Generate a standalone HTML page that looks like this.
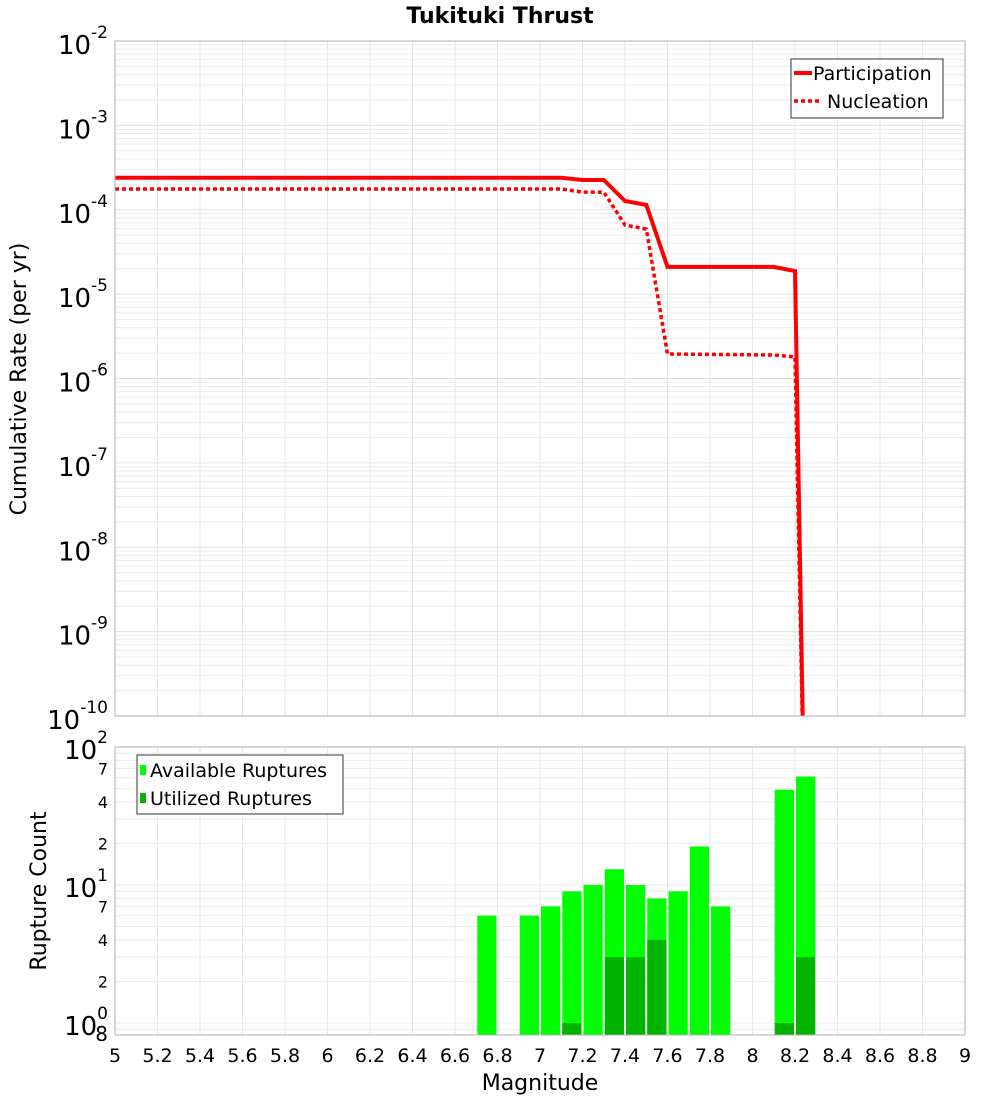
<!DOCTYPE html>
<html><head><meta charset="utf-8"><style>
body{margin:0;background:#fff;}
svg{display:block;font-family:"DejaVu Sans","Liberation Sans",sans-serif;}
</style></head><body>
<svg id="chart" width="1000" height="1100" xmlns="http://www.w3.org/2000/svg">
<text x="500" y="23" text-anchor="middle" font-size="22" font-weight="bold">Tukituki Thrust</text>
<g id="topPlot"></g><g id="botPlot"></g>
<text transform="translate(26,379) rotate(-90)" text-anchor="middle" font-size="22">Cumulative Rate (per yr)</text>
<text transform="translate(46,891) rotate(-90)" text-anchor="middle" font-size="22">Rupture Count</text>
<text x="540" y="1090" text-anchor="middle" font-size="22">Magnitude</text>
</svg>
<script>
const partMags=[5,7.1,7.2,7.3,7.4,7.5,7.6,8.1,8.2,8.25];
const partRates=[2.4e-4,2.4e-4,2.25e-4,2.25e-4,1.27e-4,1.14e-4,2.1e-5,2.1e-5,1.88e-5,1e-12];
const nuclMags=[5,7.1,7.2,7.3,7.4,7.5,7.6,8.1,8.2,8.25];
const nuclRates=[1.76e-4,1.76e-4,1.62e-4,1.62e-4,6.6e-5,5.9e-5,1.95e-6,1.9e-6,1.8e-6,1e-12];
const barMags=[6.75,6.95,7.05,7.15,7.25,7.35,7.45,7.55,7.65,7.75,7.85,8.15,8.25];
const availCounts=[6,6,7,9,10,13,10,8,9,19,7,49,61];
const usedMags=[7.15,7.35,7.45,7.55,8.15,8.25];
const usedCounts=[1,3,3,4,1,3];
const xTicks=[5,5.2,5.4,5.6,5.8,6,6.2,6.4,6.6,6.8,7,7.2,7.4,7.6,7.8,8,8.2,8.4,8.6,8.8,9];
const topDecades=[-10,-9,-8,-7,-6,-5,-4,-3,-2];
const botMinorLabels=[2,4,7];

const NS='http://www.w3.org/2000/svg';
const L=115,R=965,T1=41,B1=716,T2=747,B2=1035;
const x=m=>L+(m-5)/4*(R-L);
const yTop=v=>T1+(-2-Math.log10(v))*(B1-T1)/8;
const yBot=v=>1023-Math.log10(v)*138;
function mk(tag,attrs,parent,txt){const e=document.createElementNS(NS,tag);for(const k in attrs)e.setAttribute(k,attrs[k]);if(txt!==undefined)e.textContent=txt;parent.appendChild(e);return e;}
const svg=document.getElementById('chart');
const topG=document.getElementById('topPlot'),botG=document.getElementById('botPlot');

for(let d=-10;d<-2;d++)for(let k=1;k<10;k++){const yy=yTop(k*Math.pow(10,d));mk('line',{x1:L,x2:R,y1:yy,y2:yy,stroke:k==1?'#e0e0e0':'#ececec','stroke-width':1},topG);}
for(const t of xTicks){mk('line',{x1:x(t),x2:x(t),y1:T1,y2:B1,stroke:'#e6e6e6'},topG);mk('line',{x1:x(t),x2:x(t),y1:T2,y2:B2,stroke:'#e6e6e6'},botG);}
for(let d=-1;d<2;d++)for(let k=1;k<10;k++){const yy=yBot(k*Math.pow(10,d));if(yy<T2||yy>B2)continue;mk('line',{x1:L,x2:R,y1:yy,y2:yy,stroke:'#ececec'},botG);}

for(const d of topDecades){const yy=yTop(Math.pow(10,d));
 const t=mk('text',{x:108,y:yy+13,'text-anchor':'end','font-size':26},topG);
 
 
 mk('tspan',{},t,'10');mk('tspan',{dy:-16,'font-size':17},t,String(d));}

function path(ms,vs){return ms.map((m,i)=>(i?'L':'M')+x(m).toFixed(1)+','+yTop(vs[i]).toFixed(1)).join(' ');}
const cp=mk('clipPath',{id:'c1'},svg);mk('rect',{x:L,y:T1,width:R-L,height:B1-T1},cp);
const p1=mk('path',{d:path(partMags,partRates),fill:'none',stroke:'#ff0000','stroke-width':4,'clip-path':'url(#c1)'},topG);


const p2=mk('path',{d:path(nuclMags,nuclRates),fill:'none',stroke:'#ff0000','stroke-width':3.5,'stroke-dasharray':'4 3','clip-path':'url(#c1)'},topG);


mk('rect',{x:L,y:T1,width:R-L,height:B1-T1,fill:'none',stroke:'#b0b0b0'},topG);

const lg=mk('g',{},topG);


mk('rect',{x:791,y:59,width:152,height:59,fill:'#fff',stroke:'#333'},lg);
mk('line',{x1:794,x2:812,y1:73,y2:73,stroke:'#f00','stroke-width':4},lg);
mk('text',{x:813,y:80,'font-size':19},lg,'Participation');
mk('line',{x1:794,x2:822,y1:101,y2:101,stroke:'#f00','stroke-width':3.5,'stroke-dasharray':'4 3'},lg);
mk('text',{x:827,y:108,'font-size':19},lg,'Nucleation');

const bw=(R-L)/40;
barMags.forEach((m,i)=>{const yy=yBot(availCounts[i]);const r=mk('rect',{x:x(m)-bw/2+1,y:yy,width:bw-2,height:B2-yy,fill:'#00ff00'},botG);
 
 });
usedMags.forEach((m,i)=>{const yy=yBot(usedCounts[i]);const r=mk('rect',{x:x(m)-bw/2+1,y:yy,width:bw-2,height:B2-yy,fill:'#00b400'},botG);
 
 });
mk('rect',{x:L,y:T2,width:R-L,height:B2-T2,fill:'none',stroke:'#b0b0b0'},botG);

for(const d of [0,1,2]){const yy=yBot(Math.pow(10,d));
 const t=mk('text',{x:108,y:yy+12,'text-anchor':'end','font-size':26},botG);
 
 
 mk('tspan',{},t,'10');mk('tspan',{dy:-16,'font-size':17},t,String(d));
 if(d<2)for(const k of botMinorLabels){const ty=yBot(k*Math.pow(10,d));const s=mk('text',{x:108,y:ty+6,'text-anchor':'end','font-size':16},botG,String(k));
  
  }}
mk('text',{x:108,y:1041,'text-anchor':'end','font-size':20},botG,'8');

const bl=mk('g',{},botG);


mk('rect',{x:137,y:755,width:206,height:59,fill:'#fff',stroke:'#333'},bl);
mk('rect',{x:140,y:765,width:6,height:10,fill:'#00ff00'},bl);
mk('text',{x:150,y:777,'font-size':19},bl,'Available Ruptures');
mk('rect',{x:140,y:793,width:6,height:10,fill:'#00b400'},bl);
mk('text',{x:150,y:805,'font-size':19},bl,'Utilized Ruptures');

for(const t of xTicks){const s=mk('text',{x:x(t),y:1062,'text-anchor':'middle','font-size':19},botG,String(t));
 
 }
</script>
</body></html>
